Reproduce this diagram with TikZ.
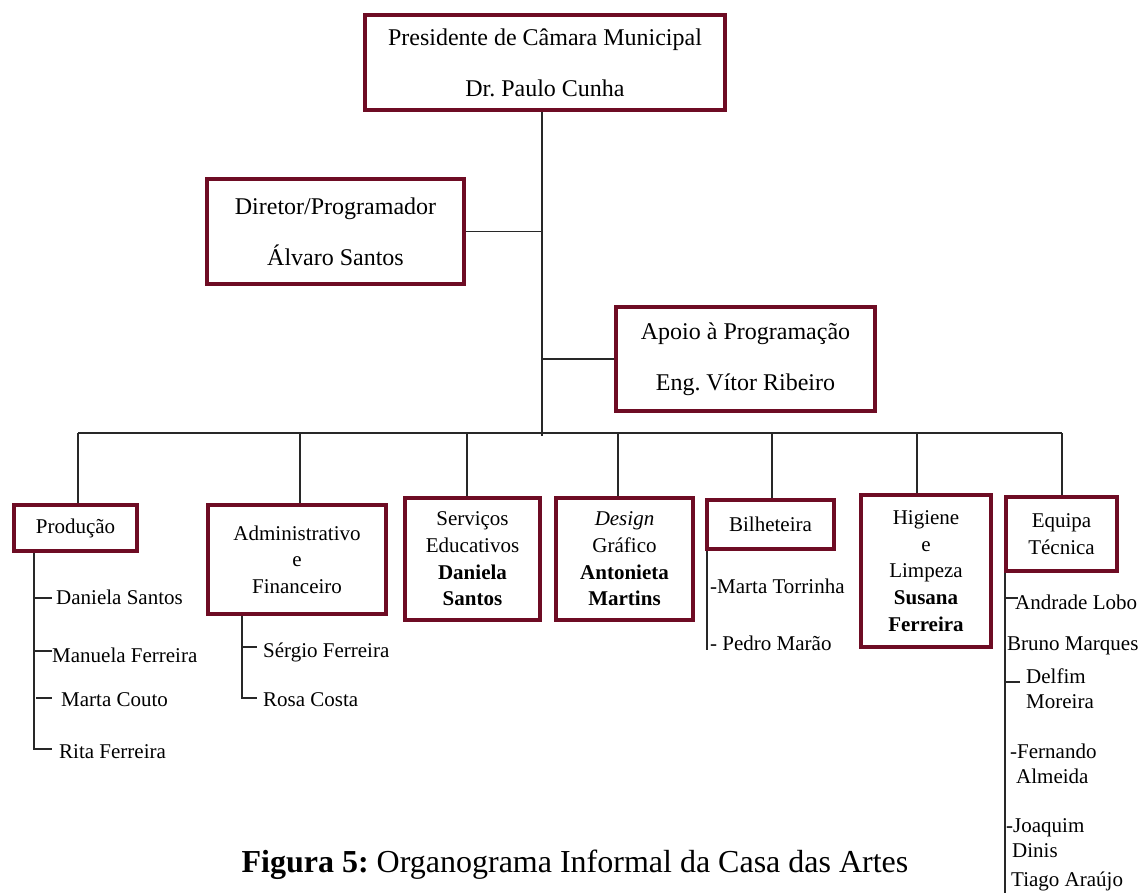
\documentclass[tikz,border=0pt]{standalone}
\usepackage{fontspec}
\setmainfont{Liberation Serif}
\frenchspacing
\definecolor{boxred}{RGB}{110,12,36}
\definecolor{lineclr}{RGB}{40,40,40}
\begin{document}
\begin{tikzpicture}[x=1pt,y=-1pt,
  box/.style={draw=boxred, line width=3.6pt, align=center, inner sep=0pt},
  bigbox/.style={box, font=\fontsize{24}{51}\selectfont},
  smallbox/.style={box, font=\fontsize{21}{26.6}\selectfont},
  conn/.style={line width=1.2pt, draw=lineclr},
  item/.style={anchor=base west, inner sep=0pt, align=left, font=\fontsize{21}{25}\selectfont},
]
\useasboundingbox (0,0) rectangle (1143,893);

% top level boxes
\node[bigbox, minimum width=360, minimum height=95] (pres) at (545,62.5)
  {Presidente de Câmara Municipal\\Dr. Paulo Cunha};
\node[bigbox, minimum width=257, minimum height=105] (dir) at (335.5,231.5)
  {Diretor/Programador\\Álvaro Santos};
\node[bigbox, minimum width=259, minimum height=104] (apo) at (745.5,359)
  {Apoio à Programação\\Eng. Vítor Ribeiro};

% trunk and bus
\coordinate (tr) at (542,436);
\coordinate (bL) at (78,433);
\coordinate (bR) at (1062,433);
\draw[conn] (pres.south -| tr) -- (tr);
\draw[conn] (dir.east) -- (dir.east -| tr);
\draw[conn] (apo.west) -- (apo.west -| tr);
\draw[conn] (bL) -- (bR);

% bottom boxes
\node[smallbox, minimum width=123, minimum height=46] (prod) at (75.5,528) {Produção};
\node[smallbox, minimum width=178, minimum height=109] (adm) at (297,559.5)
  {Administrativo\\e\\Financeiro};
\node[smallbox, minimum width=135, minimum height=122] (serv) at (472.5,559)
  {Serviços\\Educativos\\\textbf{Daniela}\\\textbf{Santos}};
\node[smallbox, minimum width=137, minimum height=122] (des) at (624.5,559)
  {\textit{Design}\\Gráfico\\\textbf{Antonieta}\\\textbf{Martins}};
\node[smallbox, minimum width=127, minimum height=49] (bil) at (770.5,524.5) {Bilheteira};
\node[smallbox, minimum width=130, minimum height=152] (hig) at (926,571)
  {Higiene\\e\\Limpeza\\\textbf{Susana}\\\textbf{Ferreira}};
\node[smallbox, minimum width=111, minimum height=74] (equ) at (1061.5,534)
  {Equipa\\Técnica};

% drops from bus
\coordinate (d1) at (78,433);
\coordinate (d2) at (300,433);
\coordinate (d3) at (467,433);
\coordinate (d4) at (618,433);
\coordinate (d5) at (772,433);
\coordinate (d6) at (917,433);
\coordinate (d7) at (1062,433);
\draw[conn] (d1) -- (d1 |- prod.north);
\draw[conn] (d2) -- (d2 |- adm.north);
\draw[conn] (d3) -- (d3 |- serv.north);
\draw[conn] (d4) -- (d4 |- des.north);
\draw[conn] (d5) -- (d5 |- bil.north);
\draw[conn] (d6) -- (d6 |- hig.north);
\draw[conn] (d7) -- (d7 |- equ.north);

% Producao list
\coordinate (pv) at (34,749);
\draw[conn] (prod.south -| pv) -- (pv) -- ++(18,0);
\draw[conn] (34,598) -- (52,598);
\draw[conn] (34,651) -- (52,651);
\draw[conn] (36,698) -- (52,698);
\node[item] (p1) at (56,604) {Daniela Santos};
\node[item] (p2) at (52,662) {Manuela Ferreira};
\node[item] (p3) at (61,706) {Marta Couto};
\node[item] (p4) at (59,758) {Rita Ferreira};

% Administrativo list
\coordinate (av) at (242,698);
\draw[conn] (adm.south -| av) -- (av) -- ++(15,0);
\draw[conn] (242,647) -- (257,647);
\node[item] (a1) at (263,657) {Sérgio Ferreira};
\node[item] (a2) at (263,706) {Rosa Costa};

% Bilheteira list
\coordinate (bv) at (707,650);
\draw[conn] (bil.south -| bv) -- (bv);
\node[item] (b1) at (710,593) {-Marta Torrinha};
\node[item] (b2) at (710,650) {- Pedro Marão};

% Equipa list
\coordinate (ev) at (1005,893);
\draw[conn] (equ.south -| ev) -- (ev);
\draw[conn] (1005,598) -- (1018,598);
\draw[conn] (1005,682) -- (1020,682);
\node[item] (e1) at (1015,609) {Andrade Lobo};
\node[item] (e2) at (1007,650) {Bruno Marques};
\node[item] (e3) at (1026,708) {Delfim\\Moreira};
\node[item] (e4) at (1010,783) {-Fernando\\\hspace*{6pt}Almeida};
\node[item] (e5) at (1006,857) {-Joaquim\\\hspace*{6pt}Dinis};
\node[item] (e6) at (1011,886) {Tiago Araújo};

% caption
\node[anchor=base, inner sep=0pt, font=\fontsize{32}{38}\selectfont] (cap) at (575,872)
  {\textbf{Figura 5:} Organograma Informal da Casa das Artes};
\end{tikzpicture}
\end{document}
